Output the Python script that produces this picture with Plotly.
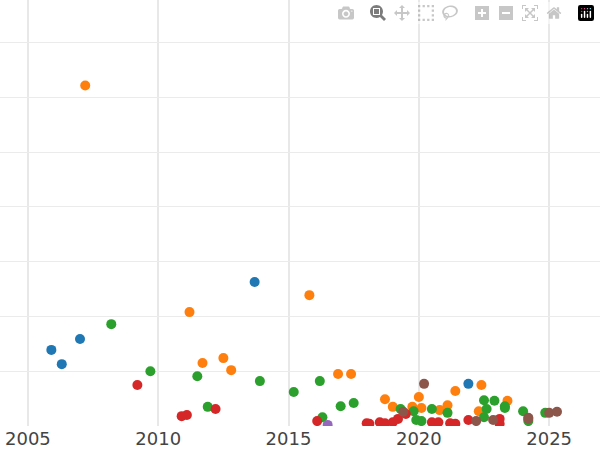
import plotly.graph_objects as go

blue_x = [2005.9, 2006.3, 2007.0, 2013.7, 2021.9]
blue_y = [1.39, 1.13, 1.59, 2.63, 0.77]
orange_x = [2007.2, 2011.2, 2011.7, 2012.5, 2012.8, 2015.8, 2016.9, 2017.4, 2018.7, 2019.0, 2019.75, 2020.0, 2020.1, 2020.8, 2021.1, 2021.4, 2022.3, 2022.4, 2023.4]
orange_y = [6.22, 2.08, 1.15, 1.24, 1.02, 2.39, 0.95, 0.95, 0.49, 0.35, 0.35, 0.53, 0.33, 0.29, 0.38, 0.64, 0.27, 0.75, 0.46]
green_x = [2008.2, 2009.7, 2011.5, 2011.9, 2013.9, 2015.2, 2016.2, 2016.3, 2017.0, 2017.5, 2019.3, 2019.8, 2019.9, 2020.1, 2020.5, 2021.1, 2022.5, 2022.6, 2022.5, 2022.9, 2023.3, 2023.3, 2024.0, 2024.2, 2024.85]
green_y = [1.86, 1.00, 0.91, 0.35, 0.82, 0.62, 0.82, 0.16, 0.36, 0.42, 0.31, 0.27, 0.11, 0.09, 0.31, 0.24, 0.47, 0.31, 0.16, 0.46, 0.33, 0.36, 0.27, 0.09, 0.24]
red_x = [2009.2, 2010.9, 2011.1, 2012.2, 2016.1, 2018.0, 2018.1, 2018.5, 2018.7, 2019.0, 2019.2, 2019.5, 2020.5, 2020.75, 2021.2, 2021.4, 2021.9, 2023.1, 2023.1]
red_y = [0.75, 0.18, 0.20, 0.31, 0.09, 0.05, 0.04, 0.07, 0.05, 0.07, 0.13, 0.22, 0.07, 0.07, 0.05, 0.04, 0.11, 0.13, 0.04]
purple_x = [2016.5]
purple_y = [0.02]
brown_x = [2020.2, 2019.4, 2022.2, 2022.85, 2024.2, 2024.2, 2025.0, 2025.3]
brown_y = [0.77, 0.26, 0.09, 0.11, 0.15, 0.13, 0.24, 0.26]

series = [
    (blue_x, blue_y, "#1f77b4"),
    (orange_x, orange_y, "#ff7f0e"),
    (green_x, green_y, "#2ca02c"),
    (red_x, red_y, "#d62728"),
    (purple_x, purple_y, "#9467bd"),
    (brown_x, brown_y, "#8c564b"),
]

fig = go.Figure()
for xs, ys, c in series:
    fig.add_trace(go.Scatter(x=xs, y=ys, mode="markers",
                             marker=dict(color=c, size=10, line=dict(width=0)),
                             showlegend=False, cliponaxis=True))

fig.update_layout(
    width=600, height=450,
    margin=dict(l=0, r=0, t=0, b=24),
    plot_bgcolor="white", paper_bgcolor="white",
    font=dict(family="DejaVu Sans", size=18, color="#444"),
)
fig.update_xaxes(range=[2003.93, 2026.95], tickvals=[2005, 2010, 2015, 2020, 2025],
                 showgrid=True, gridcolor="#e8e8e8", gridwidth=1.5, zeroline=False,
                 showline=False, ticks="")
fig.update_yaxes(range=[0.0, 7.78], dtick=1, showticklabels=False,
                 showgrid=True, gridcolor="#ebebeb", zeroline=False, showline=False)
fig.write_html("out.html", post_script="document.body.style.margin='0';document.body.style.overflow='hidden';")
